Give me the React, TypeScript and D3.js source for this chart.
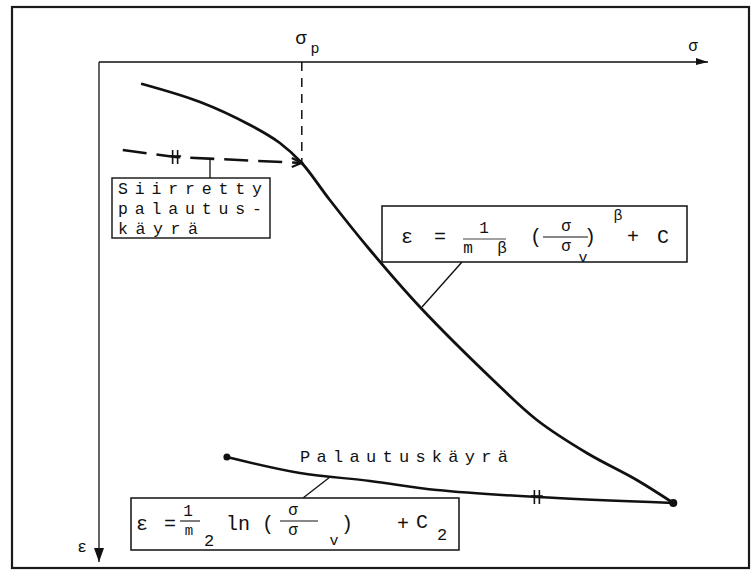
import React from "react";
import * as d3 from "d3";

const W = 751;
const H = 570;

// curve readings, σ to the right, ε downwards (0..10 units each way)
const loadSigma = [0.71, 1.66, 2.48, 2.97, 3.33, 3.79, 4.45, 5.27, 6.47, 7.19, 8.01, 8.83, 9.43];
const loadEps = [0.44, 0.8, 1.26, 1.62, 2.02, 2.76, 3.76, 4.9, 6.36, 7.16, 7.82, 8.36, 8.82];
const unloadSigma = [2.1, 3.3, 4.45, 5.55, 7.19, 9.43];
const unloadEps = [7.9, 8.22, 8.38, 8.56, 8.7, 8.82];
const shiftedSigma = [0.39, 1.25, 3.33];
const shiftedEps = [1.76, 1.9, 2.02];
const sigmaP = 3.33;
const unloadTick = 4; // index of the "||" mark on the unloading curve
const shiftedTick = 1;

const FONT = "'Liberation Mono', 'DejaVu Sans Mono', monospace";
const INK = "#111";

const x = d3.scaleLinear().domain([0, 10]).range([99, 708]);
const y = d3.scaleLinear().domain([0, 10]).range([62, 562]);

const T = ({ x, y, s = 20, children, anchor = "middle", len }: any) => (
  <text
    x={x}
    y={y}
    fontSize={s}
    fontFamily={FONT}
    fill={INK}
    textAnchor={anchor}
    dominantBaseline="central"
    textLength={len}
    lengthAdjust={len ? "spacing" : undefined}
  >
    {children}
  </text>
);

const DoubleTick = ({ cx, cy }: { cx: number; cy: number }) => (
  <g stroke={INK} strokeWidth={1.6}>
    <line x1={cx - 2.5} y1={cy - 7} x2={cx - 2.5} y2={cy + 7} />
    <line x1={cx + 2.5} y1={cy - 7} x2={cx + 2.5} y2={cy + 7} />
    <line x1={cx - 6} y1={cy - 1} x2={cx + 6} y2={cy - 1} />
  </g>
);

export default function App() {
  const line = d3
    .line<[number, number]>()
    .x((d) => x(d[0]))
    .y((d) => y(d[1]))
    .curve(d3.curveCatmullRom.alpha(0.5));

  const load = line(loadSigma.map((s, i) => [s, loadEps[i]]));
  const unload = line(unloadSigma.map((s, i) => [s, unloadEps[i]]));
  const shifted = d3
    .line<[number, number]>()
    .x((d) => x(d[0]))
    .y((d) => y(d[1]))(shiftedSigma.map((s, i) => [s, shiftedEps[i]]));

  const x0 = x(0);
  const y0 = y(0);
  const pX = x(sigmaP);
  const pY = y(shiftedEps[shiftedEps.length - 1]);
  const endX = x(unloadSigma[unloadSigma.length - 1]);
  const endY = y(unloadEps[unloadEps.length - 1]);
  const startX = x(unloadSigma[0]);
  const startY = y(unloadEps[0]);

  return (
    <svg width={W} height={H} style={{ position: "absolute", left: 0, top: 0, background: "#fff" }}>
      {/* outer frame */}
      <rect x={12} y={7} width={737} height={561} fill="none" stroke="#1a1a1a" strokeWidth={2.2} />

      {/* axes */}
      <line x1={x0} y1={y0} x2={x(10)} y2={y0} stroke={INK} strokeWidth={1.3} />
      <path d={`M${x(10) - 12},${y0 - 4} L${x(10)},${y0} L${x(10) - 12},${y0 + 3} Z`} fill={INK} />
      <line x1={x0} y1={y0} x2={x0} y2={y(10)} stroke={INK} strokeWidth={1.3} />
      <path d={`M${x0 - 5},${y(10) - 14} L${x0},${y(10)} L${x0 + 5},${y(10) - 14} Z`} fill={INK} />
      <T x={693} y={47} s={16}>σ</T>
      <T x={82} y={548} s={16}>ε</T>
      <T x={301} y={39} s={19}>σ</T>
      <T x={315} y={49} s={15}>p</T>

      {/* σp marker */}
      <line x1={pX} y1={y0} x2={pX} y2={pY} stroke={INK} strokeWidth={1.5} strokeDasharray="9 7" />

      {/* main curve */}
      <path d={load ?? ""} fill="none" stroke={INK} strokeWidth={2.8} strokeLinecap="round" />

      {/* shifted unloading curve */}
      <path d={shifted ?? ""} fill="none" stroke={INK} strokeWidth={2.6} strokeDasharray="24 10" />
      <path d={`M${pX - 10},${pY - 5} L${pX},${pY} L${pX - 10},${pY + 4}`} fill="none" stroke={INK} strokeWidth={2} />
      <DoubleTick cx={x(shiftedSigma[shiftedTick])} cy={y(shiftedEps[shiftedTick])} />
      <line x1={210} y1={y(1.9) + 1} x2={210} y2={178} stroke={INK} strokeWidth={1.3} />
      <rect x={112} y={178} width={158} height={60} fill="#fff" stroke={INK} strokeWidth={1.4} />
      <T x={118} y={189} s={16.5} anchor="start" len={144}>Siirretty</T>
      <T x={118} y={209} s={16.5} anchor="start" len={144}>palautus-</T>
      <T x={118} y={229} s={16.5} anchor="start" len={80}>käyrä</T>

      {/* unloading curve */}
      <path d={unload ?? ""} fill="none" stroke={INK} strokeWidth={2.4} />
      <circle cx={startX} cy={startY} r={3.5} fill={INK} />
      <circle cx={endX} cy={endY} r={4} fill={INK} />
      <DoubleTick cx={x(unloadSigma[unloadTick])} cy={y(unloadEps[unloadTick])} />
      <T x={300} y={457} s={17} anchor="start" len={208}>Palautuskäyrä</T>

      {/* formula 1 */}
      <line x1={462} y1={262} x2={422} y2={307} stroke={INK} strokeWidth={1.4} />
      <rect x={382} y={206} width={305} height={56} fill="#fff" stroke={INK} strokeWidth={1.5} />
      <T x={407} y={237}>ε</T>
      <T x={440} y={237}>=</T>
      <T x={484} y={229} s={16}>1</T>
      <line x1={463} y1={239} x2={506} y2={239} stroke={INK} strokeWidth={0.8} />
      <T x={468} y={249} s={16}>m</T>
      <T x={502} y={249} s={16}>β</T>
      <T x={536} y={237}>(</T>
      <T x={566} y={227} s={16}>σ</T>
      <line x1={543} y1={237} x2={588} y2={237} stroke={INK} strokeWidth={1.1} />
      <T x={566} y={247} s={16}>σ</T>
      <T x={583} y={258} s={15}>v</T>
      <T x={590} y={237}>)</T>
      <T x={618} y={216} s={15}>β</T>
      <T x={633} y={237}>+</T>
      <T x={663} y={237}>C</T>

      {/* formula 2 */}
      <line x1={330} y1={477} x2={303} y2={498} stroke={INK} strokeWidth={1.3} />
      <rect x={131} y={498} width={328} height={52} fill="#fff" stroke={INK} strokeWidth={1.5} />
      <T x={142} y={524}>ε</T>
      <T x={170} y={524}>=</T>
      <T x={188} y={512} s={16}>1</T>
      <line x1={180} y1={521} x2={200} y2={521} stroke={INK} strokeWidth={1.1} />
      <T x={189} y={531} s={14}>m</T>
      <T x={209} y={541} s={17}>2</T>
      <T x={238} y={524}>ln</T>
      <T x={268} y={524}>(</T>
      <T x={293} y={511} s={16}>σ</T>
      <line x1={280} y1={521} x2={318} y2={521} stroke={INK} strokeWidth={1.1} />
      <T x={293} y={531} s={16}>σ</T>
      <T x={334} y={541} s={15}>v</T>
      <T x={347} y={524}>)</T>
      <T x={403} y={524}>+</T>
      <T x={422} y={522}>C</T>
      <T x={442} y={535} s={17}>2</T>
    </svg>
  );
}
